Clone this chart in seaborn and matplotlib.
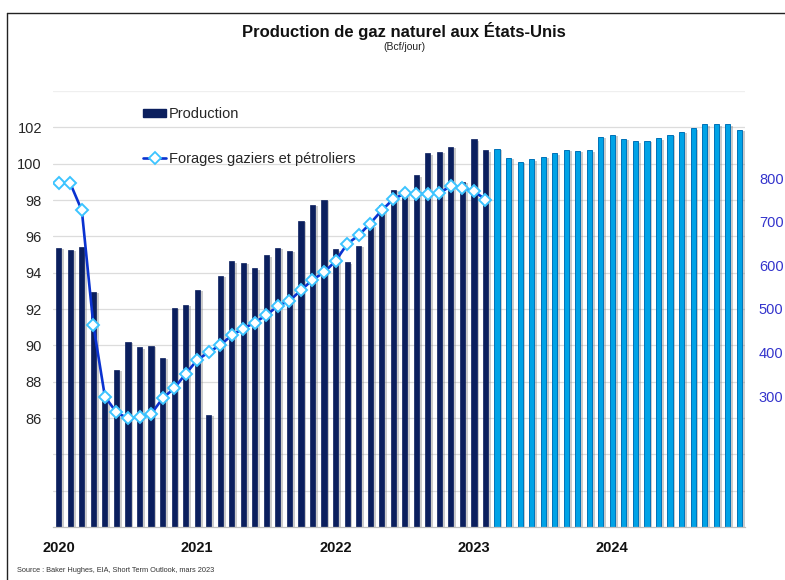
import matplotlib
matplotlib.use("Agg")
import matplotlib.pyplot as plt
import matplotlib.patheffects as pe
from matplotlib.lines import Line2D
from matplotlib.patches import Patch
import pandas as pd
import seaborn as sns

# Monthly dry gas production, Bcf/d (Jan 2020 - Dec 2024)
prod_2020 = [95.38, 95.27, 95.43, 92.94, 87.40, 88.64, 90.20, 89.90, 89.97, 89.30, 92.08, 92.22]
prod_2021 = [93.04, 86.16, 93.82, 94.62, 94.54, 94.24, 94.96, 95.38, 95.20, 96.84, 97.72, 98.00]
prod_2022 = [95.28, 94.57, 95.47, 96.60, 97.74, 98.55, 98.30, 99.36, 100.57, 100.64, 100.92, 99.01]
prod_2023 = [101.34, 100.73, 100.83, 100.31, 100.11, 100.24, 100.39, 100.57, 100.77, 100.72, 100.73, 101.47]
prod_2024 = [101.58, 101.38, 101.23, 101.25, 101.39, 101.59, 101.76, 101.94, 102.17, 102.17, 102.17, 101.87]
production = prod_2020 + prod_2021 + prod_2022 + prod_2023 + prod_2024

# Gas + oil rig count (Jan 2020 - Feb 2023)
rigs = [788, 788, 726, 463, 299, 263, 249, 252, 259, 295, 318, 351,
        383, 401, 417, 440, 455, 469, 486, 507, 519, 543, 567, 584,
        610, 649, 669, 696, 726, 752, 765, 764, 764, 765, 783, 778,
        770, 751]

years = ["2020", "2021", "2022", "2023", "2024"]
n_observed = 38  # observed months; the rest is the STEO forecast

left_ticks = [86, 88, 90, 92, 94, 96, 98, 100, 102]
right_ticks = [300, 400, 500, 600, 700, 800]

navy = "#0b1f5e"
sky = "#00a3e6"
sky_edge = "#0072b8"
line_blue = "#0a32d0"

sns.set_theme(style="white")
plt.rcParams["font.family"] = ["Liberation Sans", "DejaVu Sans"]

W, H = 785, 580
fig = plt.figure(figsize=(W / 100, H / 100), dpi=100)
ax = fig.add_axes([53 / W, 1 - 527 / H, (745 - 53) / W, (527 - 91) / H])

df = pd.DataFrame({
    "mois": list(range(len(production))),
    "production": production,
    "type": ["obs"] * n_observed + ["prev"] * (len(production) - n_observed),
})
sns.barplot(data=df, x="mois", y="production", hue="type",
            palette={"obs": navy, "prev": sky}, dodge=False, width=0.45,
            legend=False, ax=ax, saturation=1)

shadow = [pe.SimplePatchShadow(offset=(2.0, -1.0), shadow_rgbFace="#8c8c8c", alpha=0.45),
          pe.Normal()]
for p in ax.patches:
    p.set_path_effects(shadow)
    if p.get_facecolor()[2] > 0.6:
        p.set_edgecolor(sky_edge)
        p.set_linewidth(0.7)
    else:
        p.set_edgecolor(navy)
        p.set_linewidth(0.5)

ax.set_ylim(80, 104)
ax.set_xlim(-0.5, 59.5)
grid_vals = list(range(82, 103, 2))
ax.set_yticks(grid_vals)
ax.set_yticklabels([str(v) if v in left_ticks else "" for v in grid_vals])
ax.yaxis.grid(True, color="#dcdcdc", linewidth=0.9)
ax.axhline(104, color="#efefef", linewidth=0.9, zorder=0)
ax.set_axisbelow(True)
ax.tick_params(axis="y", length=0, labelsize=10.5, labelcolor="#262626", pad=8)

ax.set_xticks([0, 12, 24, 36, 48])
ax.set_xticklabels(years, fontweight="bold", fontsize=10.5, color="#111111")
ax.set_xticks([-0.5 + 12 * k for k in range(6)], minor=True)
ax.tick_params(axis="x", which="major", length=0, pad=10)
ax.tick_params(axis="x", which="minor", length=5, direction="inout",
               color="#b0b0b0", width=0.9)
ax.set_xlabel("")
ax.set_ylabel("")
for s in ["left", "right", "top"]:
    ax.spines[s].set_visible(False)
ax.spines["bottom"].set_color("#c0c0c0")
ax.spines["bottom"].set_linewidth(0.9)

ax2 = ax.twinx()
sns.lineplot(x=list(range(n_observed)), y=rigs, ax=ax2, color=line_blue,
             linewidth=1.9, marker="D", markersize=6.5,
             markerfacecolor="white", markeredgecolor="#3cc4ff",
             markeredgewidth=1.4, zorder=3)
ax2.set_ylim(0, 1000)
ax2.set_yticks(right_ticks)
ax2.set_yticklabels([str(v) for v in right_ticks])
ax2.tick_params(axis="y", length=0, labelsize=10.5, labelcolor="#3434cc", pad=10)
ax2.grid(False)
ax2.set_ylabel("")
ax2.set_xlabel("")
for s in ax2.spines.values():
    s.set_visible(False)
ax.set_xlim(-0.5, 59.5)

handles = [
    Patch(facecolor=navy, edgecolor=navy),
    Line2D([], [], color=line_blue, linewidth=1.9, marker="D", markersize=6,
           markerfacecolor="white", markeredgecolor="#3cc4ff", markeredgewidth=1.3),
]
fig.legend(handles, ["Production", "Forages gaziers et pétroliers"],
           loc="upper left", bbox_to_anchor=(143 / W, 1 - 107 / H),
           frameon=False, fontsize=10.5, handlelength=1.6, handleheight=0.5,
           handletextpad=0.2, labelspacing=2.1, borderpad=0, borderaxespad=0)

fig.text(404 / W, 1 - 31 / H, "Production de gaz naturel aux États-Unis",
         ha="center", va="center", fontsize=12, fontweight="bold", color="#111111")
fig.text(404 / W, 1 - 47 / H, "(Bcf/jour)", ha="center", va="center",
         fontsize=7.5, color="#222222")
fig.text(17 / W, 1 - 570 / H, "Source : Baker Hughes, EIA, Short Term Outlook, mars 2023",
         ha="left", va="center", fontsize=5.3, color="#333333")

# frame lines along the left and top edges
fig.add_artist(Line2D([7 / W, 7 / W], [0, 1 - 13 / H], color="#222222", linewidth=1.0))
fig.add_artist(Line2D([7 / W, 1], [1 - 13 / H, 1 - 13 / H], color="#222222", linewidth=1.0))

fig.savefig("out.png", dpi=100)
